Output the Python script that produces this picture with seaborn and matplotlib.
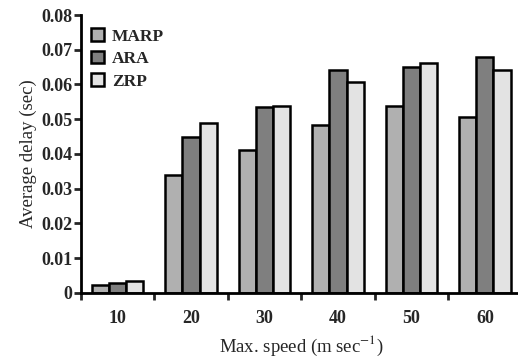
import matplotlib
matplotlib.use("Agg")
import matplotlib.pyplot as plt
import seaborn as sns
import pandas as pd
from matplotlib.ticker import FixedLocator, FuncFormatter

speeds = ["10", "20", "30", "40", "50", "60"]
marp = [0.0023, 0.0340, 0.0411, 0.0483, 0.0538, 0.0507]
ara = [0.0028, 0.0450, 0.0536, 0.0642, 0.0649, 0.0678]
zrp = [0.0035, 0.0490, 0.0538, 0.0608, 0.0661, 0.0641]
protocols = ["MARP", "ARA", "ZRP"]
colors = ["#b0b0b0", "#7f7f7f", "#e3e3e3"]

rows = []
for name, vals in zip(protocols, [marp, ara, zrp]):
    for s, v in zip(speeds, vals):
        rows.append({"speed": s, "protocol": name, "delay": v})
df = pd.DataFrame(rows)

sns.set_theme(style="white")
plt.rcParams["font.family"] = ["Liberation Serif", "DejaVu Serif"]
plt.rcParams["mathtext.fontset"] = "stix"

fig = plt.figure(figsize=(5.18, 3.58), dpi=100)
ax = fig.add_axes([0.156, 0.182, 0.851, 0.776])
sns.barplot(data=df, x="speed", y="delay", hue="protocol", order=speeds,
            hue_order=protocols, palette=colors, width=0.7,
            edgecolor="black", linewidth=1.8, saturation=1, ax=ax, errorbar=None)

ax.set_xlim(-0.5, 5.5)
ax.set_ylim(0, 0.08)
ax.set_yticks([0, 0.01, 0.02, 0.03, 0.04, 0.05, 0.06, 0.07, 0.08])
ax.yaxis.set_major_formatter(FuncFormatter(lambda v, p: "0" if v == 0 else f"{v:.2f}"))
ax.xaxis.set_minor_locator(FixedLocator([i - 0.5 for i in range(7)]))
ax.tick_params(axis="x", which="major", length=0, pad=12, labelsize=13)
ax.tick_params(axis="x", which="minor", direction="out", length=5, width=2, bottom=True)
ax.tick_params(axis="y", which="major", direction="out", length=5, width=2, left=True, labelsize=13, pad=1)
for lab in ax.get_xticklabels() + ax.get_yticklabels():
    lab.set_fontweight("bold")

for side in ["top", "right"]:
    ax.spines[side].set_visible(False)
for side in ["left", "bottom"]:
    ax.spines[side].set_linewidth(2)
    ax.spines[side].set_color("black")

ax.set_xlabel("Max. speed (m sec$^{-1}$)", fontsize=13.5, labelpad=5)
ax.set_ylabel("Average delay (sec)", fontsize=13.5, labelpad=3)

leg = ax.legend(loc="upper left", bbox_to_anchor=(0.0, 0.99), frameon=False,
                prop={"family": "Liberation Serif", "weight": "bold", "size": 12.5},
                handlelength=0.75, handleheight=0.75, handletextpad=0.45, labelspacing=0.35,
                borderaxespad=0.2)

fig.savefig("out.png", dpi=100)
